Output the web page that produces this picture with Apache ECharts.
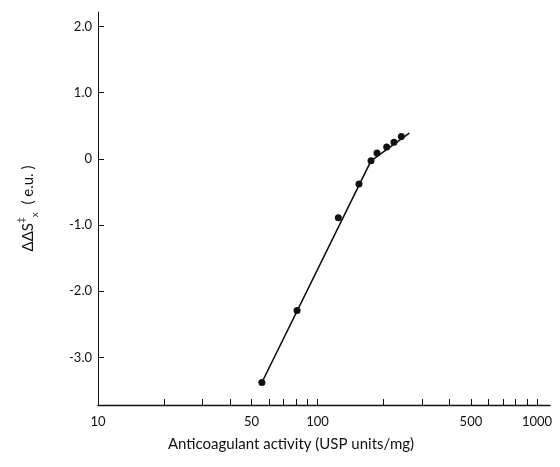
<!DOCTYPE html>
<html>
<head>
<meta charset="utf-8">
<script src="https://cdn.jsdelivr.net/npm/echarts@6/dist/echarts.min.js"></script>
<style>
  html, body { margin: 0; padding: 0; background: #fff; }
  #chart { width: 560px; height: 467px; }
</style>
</head>
<body>
<div id="chart"></div>
<script>
// measured points: anticoagulant activity vs ddS
var activity = [55.8, 80.7, 124.4, 154.5, 175.3, 186.6, 206.6, 223, 241];
var deltaS = [-3.38, -2.29, -0.89, -0.38, -0.03, 0.09, 0.18, 0.25, 0.34];
// drawn fit line
var fitX = [55.8, 175.3, 262];
var fitY = [-3.38, -0.03, 0.39];
// axis ticks
var xLabels = [10, 50, 100, 500, 1000];
var xTicks = [20, 30, 40, 50, 60, 70, 80, 90, 100, 200, 300, 400, 500, 600, 700, 800, 900, 1000];
var yTicks = [-3, -2, -1, 0, 1, 2];

var font = 'Lato, "DejaVu Sans", sans-serif';
var ink = '#111';

function pairs(xs, ys) {
  return xs.map(function (x, i) { return [x, ys[i]]; });
}

var chart = echarts.init(document.getElementById('chart'));
chart.setOption({
  animation: false,
  backgroundColor: '#fff',
  grid: { left: 98, right: 10, top: 12, bottom: 62 },
  xAxis: {
    type: 'log',
    logBase: 10,
    min: 10,
    max: 1146,
    name: 'Anticoagulant activity (USP units/mg)',
    nameLocation: 'middle',
    nameGap: 32,
    nameTextStyle: { fontFamily: font, fontSize: 15, color: ink, padding: [0, 66, 0, 0] },
    axisLine: { onZero: false, lineStyle: { color: ink, width: 1.3 } },
    axisTick: { inside: true, length: 6, customValues: xTicks, lineStyle: { color: ink } },
    axisLabel: {
      customValues: xLabels,
      margin: 10,
      fontFamily: font, fontSize: 13, color: ink,
      formatter: function (v) { return String(Math.round(v)); }
    },
    splitLine: { show: false },
    minorTick: { show: false }
  },
  yAxis: {
    type: 'value',
    min: -3.72,
    max: 2.22,
    name: '{n|ΔΔS}{sup|‡}{sub|x}{n|  ( e.u. )}',
    nameLocation: 'middle',
    nameGap: 58,
    nameRotate: 90,
    nameTextStyle: {
      fontFamily: font, fontSize: 15, color: ink,
      rich: {
        n: { fontFamily: font, fontSize: 15, color: ink, lineHeight: 24, verticalAlign: 'middle' },
        sup: { fontFamily: font, fontSize: 10, color: ink, lineHeight: 24, verticalAlign: 'top' },
        sub: { fontFamily: font, fontSize: 10, color: ink, lineHeight: 24, verticalAlign: 'bottom' }
      }
    },
    axisLine: { show: true, onZero: false, lineStyle: { color: ink, width: 1 } },
    axisTick: { show: true, inside: true, length: 6, customValues: yTicks, lineStyle: { color: ink } },
    axisLabel: {
      customValues: yTicks,
      margin: 6,
      fontFamily: font, fontSize: 13, color: ink,
      formatter: function (v) { return v === 0 ? '0' : v.toFixed(1); }
    },
    splitLine: { show: false }
  },
  series: [
    {
      type: 'line',
      data: pairs(fitX, fitY),
      symbol: 'none',
      lineStyle: { color: ink, width: 1.6 },
      z: 2
    },
    {
      type: 'scatter',
      data: pairs(activity, deltaS),
      symbol: 'circle',
      symbolSize: 7,
      itemStyle: { color: ink, opacity: 1 },
      z: 3
    }
  ]
});
</script>
</body>
</html>
